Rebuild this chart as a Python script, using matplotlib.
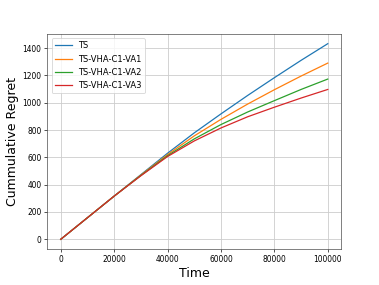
import matplotlib
matplotlib.use("Agg")
import matplotlib.pyplot as plt

time_steps = [0, 10000, 20000, 30000, 40000, 50000, 60000, 70000, 80000, 90000, 100000]
ts = [0, 158, 316, 473, 630, 779, 918, 1053, 1183, 1310, 1432]
va1 = [0, 158, 316, 470, 620, 757, 878, 990, 1095, 1195, 1290]
va2 = [0, 158, 316, 467, 612, 735, 840, 932, 1015, 1097, 1173]
va3 = [0, 158, 316, 465, 606, 720, 815, 897, 967, 1034, 1097]
labels = ["TS", "TS-VHA-C1-VA1", "TS-VHA-C1-VA2", "TS-VHA-C1-VA3"]

fig = plt.figure(figsize=(379 / 60, 285 / 60), dpi=60)
ax = fig.add_axes([0.125, 0.126, 0.775, 0.755])
for series, lab in zip([ts, va1, va2, va3], labels):
    ax.plot(time_steps, series, label=lab, linewidth=1.5)
ax.grid(True, color="#cccccc", linewidth=1)
for s in ax.spines.values():
    s.set_color("#444444")
ax.set_xlabel("Time", fontsize=15)
ax.set_ylabel("Cummulative Regret", fontsize=15)
ax.tick_params(labelsize=9)
ax.legend(loc="upper left", fontsize=10)
fig.savefig("out.png", dpi=60)
